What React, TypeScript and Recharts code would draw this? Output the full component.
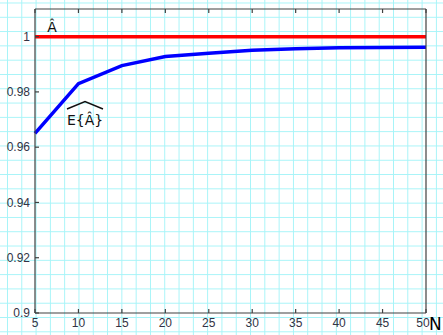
import React from "react";
import { LineChart, Line, XAxis, YAxis } from "recharts";

// sample sizes N and the estimator mean E{Â}
const nValues = [5, 10, 15, 20, 25, 30, 35, 40, 45, 50];
const meanEstimate = [0.965, 0.983, 0.9895, 0.9928, 0.994, 0.9951, 0.9956, 0.996, 0.9961, 0.9962];
const trueValue = [1, 1, 1, 1, 1, 1, 1, 1, 1, 1];

const xTicks = [5, 10, 15, 20, 25, 30, 35, 40, 45, 50];
const yTicks = [0.9, 0.92, 0.94, 0.96, 0.98, 1];

const data = nValues.map((n, i) => ({
  n,
  est: meanEstimate[i],
  ref: trueValue[i],
}));

const axisColor = "#404040";
const font = "Liberation Sans, Arial, sans-serif";
const tickStyle = { fill: "#333344", fontSize: 12, fontFamily: font };

// last x label is nudged left so it doesn't run into the "N"
const XTick = (props: any) => {
  const { x, y, payload } = props;
  const last = payload.value === xTicks[xTicks.length - 1];
  return (
    <text
      x={last ? x - 3 : x}
      y={y}
      dy="0.71em"
      textAnchor="middle"
      fill="#333344"
      fontSize={12}
      fontFamily={font}
    >
      {payload.value}
    </text>
  );
};

const NoTick = () => <g />;

export default function App() {
  return (
    <div
      style={{
        position: "absolute",
        left: 0,
        top: 0,
        width: 443,
        height: 335,
        background: "#fff",
        backgroundImage:
          "linear-gradient(to right, #a6f4f8 1px, transparent 1px), linear-gradient(to bottom, #a6f4f8 1px, transparent 1px)",
        backgroundSize: "14.3px 14.3px",
        backgroundPosition: "7px 2.5px",
        overflow: "hidden",
      }}
    >
      <LineChart
        width={443}
        height={335}
        data={data}
        margin={{ top: 8, right: 16, left: 0, bottom: 0 }}
      >
        <XAxis
          dataKey="n"
          type="number"
          domain={[5, 50]}
          ticks={xTicks}
          height={22}
          tickSize={-4}
          tickMargin={9}
          stroke={axisColor}
          strokeWidth={1.2}
          tick={<XTick />}
          interval={0}
        />
        <XAxis
          xAxisId="top"
          orientation="top"
          dataKey="n"
          type="number"
          domain={[5, 50]}
          ticks={xTicks}
          height={1}
          tickSize={-4}
          stroke={axisColor}
          strokeWidth={1.2}
          tick={<NoTick />}
          interval={0}
        />
        <YAxis
          type="number"
          domain={[0.9, 1.01]}
          ticks={yTicks}
          allowDataOverflow
          width={35}
          tickSize={-4}
          tickMargin={9}
          stroke={axisColor}
          strokeWidth={1.2}
          tick={tickStyle}
          interval={0}
        />
        <YAxis
          yAxisId="right"
          orientation="right"
          type="number"
          domain={[0.9, 1.01]}
          width={1}
          tick={false}
          tickLine={false}
          stroke={axisColor}
          strokeWidth={1.2}
        />
        <Line
          type="linear"
          dataKey="ref"
          stroke="#ff0000"
          strokeWidth={3.5}
          dot={false}
          isAnimationActive={false}
        />
        <Line
          type="linear"
          dataKey="est"
          stroke="#0000ff"
          strokeWidth={3.5}
          dot={false}
          isAnimationActive={false}
        />
      </LineChart>
      <svg
        width={443}
        height={335}
        style={{ position: "absolute", left: 0, top: 0, pointerEvents: "none" }}
      >
        <g fontFamily="DejaVu Sans, sans-serif" fill="#111">
          <text x={52} y={32} fontSize={14} textAnchor="middle">Â</text>
          <text x={67} y={125} fontSize={14}>E{"{"}Â{"}"}</text>
          <path d="M67 109 L85 101.5 L103 109" stroke="#111" strokeWidth={1.4} fill="none" />
          <text x={429} y={330} fontSize={17} fill="#000">N</text>
        </g>
      </svg>
    </div>
  );
}
